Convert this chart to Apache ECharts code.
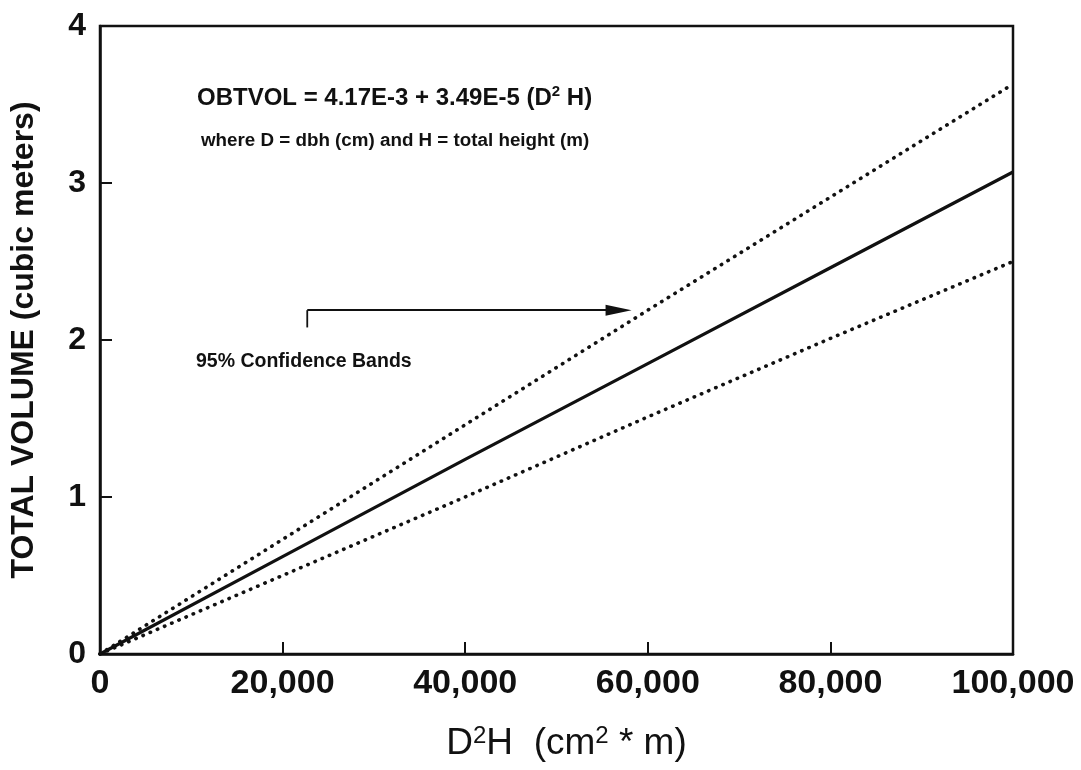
<!DOCTYPE html>
<html><head><meta charset="utf-8">
<script src="https://cdn.jsdelivr.net/npm/echarts@6/dist/echarts.min.js"></script>
<style>html,body{margin:0;padding:0;background:#fff}#c{width:1081px;height:770px}</style>
</head><body><div id="c"></div>
<script>
// ---- data ----
const xValues   = [0, 20000, 40000, 60000, 80000, 100000];
const fitted    = [0, 0.62, 1.24, 1.85, 2.46, 3.07];   // solid regression line
const upperBand = [0, 0.73, 1.46, 2.19, 2.91, 3.63];   // upper 95% band (dotted)
const lowerBand = [0, 0.50, 1.00, 1.51, 2.01, 2.50];   // lower 95% band (dotted)
const xTickValues = [0, 20000, 40000, 60000, 80000, 100000];
const yTickValues = [0, 1, 2, 3, 4];
const arrowStem  = [[22700, 2.08], [22700, 2.19]];
const arrowShaft = [[22700, 2.19], [56800, 2.19]];
const equationText = 'OBTVOL = 4.17E-3 + 3.49E-5 (';
const whereText = 'where D = dbh (cm) and H = total height (m)';
const bandLabel = '95% Confidence Bands';
const yTitle = 'TOTAL VOLUME (cubic meters)';

const FONT = "'Liberation Sans', Arial, Helvetica, sans-serif";
const INK = '#111';
const pair = (xs, ys) => xs.map((x, i) => [x, ys[i]]);

const chart = echarts.init(document.getElementById('c'), null, {renderer: 'canvas'});
const dotted = {color: INK, width: 3.6, type: [0.4, 7.4], cap: 'round'};

chart.setOption({
  animation: false,
  backgroundColor: '#fff',
  grid: {left: 98, right: 68, top: 26, bottom: 116, show: true, borderColor: INK, borderWidth: 2.5},
  xAxis: {
    type: 'value', min: 0, max: 100000, interval: 20000,
    axisLine: {lineStyle: {color: INK, width: 2.5}},
    axisTick: {inside: true, length: 12, lineStyle: {color: INK, width: 2}},
    splitLine: {show: false},
    axisLabel: {
      color: INK, fontFamily: FONT, fontWeight: 'bold', fontSize: 34, margin: 13,
      showMinLabel: true, showMaxLabel: true,
      formatter: v => xTickValues.includes(v) ? v.toLocaleString('en-US') : ''
    },
    name: '{n|D}{s|2}{n|H  (cm}{s|2}{n| * m)}',
    nameLocation: 'middle', nameGap: 70,
    nameTextStyle: {
      color: INK, fontFamily: FONT, padding: [0, 0, 0, 20],
      rich: {
        n: {fontSize: 37, fontFamily: FONT, color: INK, lineHeight: 40},
        s: {fontSize: 24, fontFamily: FONT, color: INK, verticalAlign: 'top', lineHeight: 24}
      }
    }
  },
  yAxis: {
    type: 'value', min: 0, max: 4, interval: 1,
    axisLine: {lineStyle: {color: INK, width: 2.5}},
    axisTick: {inside: true, length: 12, lineStyle: {color: INK, width: 2}},
    splitLine: {show: false},
    axisLabel: {
      color: INK, fontFamily: FONT, fontWeight: 'bold', fontSize: 32, margin: 14,
      formatter: v => yTickValues.includes(v) ? String(v) : ''
    },
    name: yTitle, nameLocation: 'middle', nameGap: 60, nameRotate: 90,
    nameTextStyle: {color: INK, fontFamily: FONT, fontWeight: 'bold', fontSize: 32}
  },
  series: [
    {type: 'line', name: 'fit', data: pair(xValues, fitted), symbol: 'none', silent: true,
     lineStyle: {color: INK, width: 3.2}},
    {type: 'line', name: 'upper', data: pair(xValues, upperBand), symbol: 'none', silent: true,
     lineStyle: dotted},
    {type: 'line', name: 'lower', data: pair(xValues, lowerBand), symbol: 'none', silent: true,
     lineStyle: dotted},
    {type: 'line', name: 'arrow', data: arrowStem, symbol: 'none', silent: true,
     lineStyle: {color: INK, width: 1.8},
     markLine: {
       silent: true, animation: false,
       symbol: ['none', 'triangle'], symbolSize: [11, 26],
       label: {show: false},
       lineStyle: {color: INK, width: 1.8, type: 'solid'},
       emphasis: {disabled: true},
       data: [[{coord: arrowShaft[0]}, {coord: arrowShaft[1]}]]
     }}
  ],
  graphic: [
    {type: 'text', left: 197, top: 84, silent: true,
     style: {
       text: '{a|' + equationText + '}{a|D}{s|2}{a| H)}',
       rich: {
         a: {fontFamily: FONT, fontWeight: 'bold', fontSize: 24, fill: INK, lineHeight: 28},
         s: {fontFamily: FONT, fontWeight: 'bold', fontSize: 15, fill: INK, verticalAlign: 'top', lineHeight: 15}
       }
     }},
    {type: 'text', left: 201, top: 131, silent: true,
     style: {text: whereText, fontFamily: FONT, fontWeight: 'bold', fontSize: 18.8, fill: INK}},
    {type: 'text', left: 196, top: 352, silent: true,
     style: {text: bandLabel, fontFamily: FONT, fontWeight: 'bold', fontSize: 19.5, fill: INK}}
  ]
});
</script>
</body></html>
